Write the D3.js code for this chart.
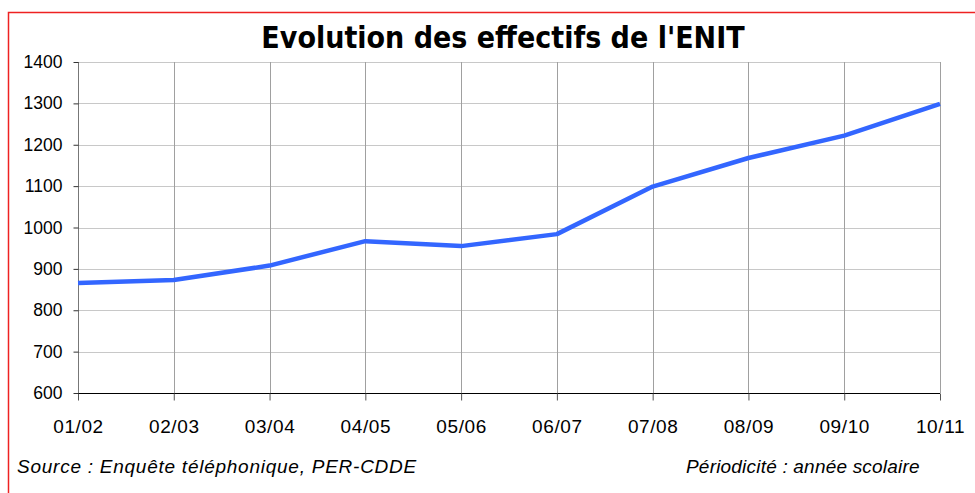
<!DOCTYPE html>
<html><head><meta charset="utf-8">
<script src="https://cdn.jsdelivr.net/npm/d3@7"></script>
<style>body{margin:0;background:#fff;}svg{display:block;}</style>
</head><body>
<svg id="c" width="975" height="493"></svg>
<script>
const categories = ["01/02","02/03","03/04","04/05","05/06","06/07","07/08","08/09","09/10","10/11"];
const values = [866, 873, 908, 967, 955, 984, 1099, 1168, 1222, 1299];
const yTicks = [600,700,800,900,1000,1100,1200,1300,1400];
const title = "Evolution des effectifs de l'ENIT";
const sourceText = "Source : Enquête téléphonique, PER-CDDE";
const periodText = "Périodicité : année scolaire";

const svg = d3.select("#c");
const m = {left:78, right:940, top:62, bottom:393};

// red frame
svg.append("rect").attr("x",8.5).attr("y",12.5).attr("width",975).attr("height",500)
  .attr("fill","none").attr("stroke","#ee2222").attr("stroke-width",1.5);

const x = d3.scalePoint().domain(categories).range([m.left, m.right]);
const y = d3.scaleLinear().domain([600,1400]).range([m.bottom, m.top]);

// horizontal grid
svg.append("g").selectAll("line").data(yTicks.filter(d=>d>600)).join("line")
  .attr("x1",m.left).attr("x2",m.right)
  .attr("y1",d=>Math.round(y(d))+0.5).attr("y2",d=>Math.round(y(d))+0.5)
  .attr("stroke","#c8c8c8").attr("stroke-width",1);
// vertical grid
svg.append("g").selectAll("line").data(categories.slice(1)).join("line")
  .attr("x1",d=>Math.round(x(d))+0.5).attr("x2",d=>Math.round(x(d))+0.5)
  .attr("y1",m.top).attr("y2",m.bottom)
  .attr("stroke","#a0a0a0").attr("stroke-width",1);

// y axis
const ya = svg.append("g").attr("transform",`translate(${m.left+0.5},0)`)
  .call(d3.axisLeft(y).tickValues(yTicks).tickSize(5).tickPadding(11).tickFormat(d3.format("d")));
ya.select(".domain").attr("stroke","#777").attr("d",`M-0,${m.top}V${m.bottom+7}`);
ya.selectAll(".tick line").attr("stroke","#333");
ya.selectAll("text").attr("font-family","Liberation Sans, Arial, sans-serif").attr("font-size",17.5).attr("fill","#000");

// x axis
const xa = svg.append("g").attr("transform",`translate(0,${m.bottom+0.5})`)
  .call(d3.axisBottom(x).tickSize(7).tickPadding(19));
xa.select(".domain").attr("stroke","#000").attr("d",`M${m.left},0H${m.right}`);
xa.selectAll(".tick line").attr("stroke","#555");
xa.selectAll("text").attr("font-family","Liberation Sans, Arial, sans-serif").attr("font-size",19)
  .attr("letter-spacing",0.6).attr("fill","#000");

// line
svg.append("path").datum(values)
  .attr("fill","none").attr("stroke","#3366ff").attr("stroke-width",4.5)
  .attr("stroke-linejoin","round")
  .attr("d", d3.line().x((d,i)=>x(categories[i])).y(d=>y(d)));

// title
svg.append("text").attr("x",503).attr("y",48).attr("text-anchor","middle")
  .attr("font-family","DejaVu Sans Condensed, DejaVu Sans, sans-serif").attr("font-weight","bold")
  .attr("font-size",30).attr("fill","#000").text(title);

// footnotes
svg.append("text").attr("x",17).attr("y",473)
  .attr("font-family","Liberation Sans, Arial, sans-serif").attr("font-style","italic")
  .attr("font-size",19).attr("letter-spacing",0.75).attr("fill","#000").text(sourceText);
svg.append("text").attr("x",686).attr("y",473)
  .attr("font-family","Liberation Sans, Arial, sans-serif").attr("font-style","italic")
  .attr("font-size",19).attr("letter-spacing",0.2).attr("fill","#000").text(periodText);
</script>
</body></html>
